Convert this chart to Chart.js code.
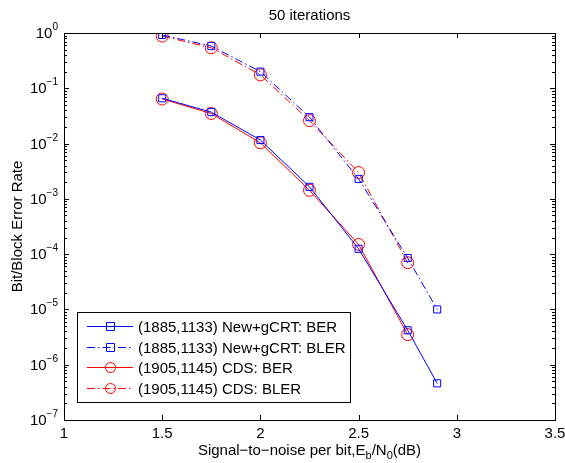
<!DOCTYPE html>
<html>
<head>
<meta charset="utf-8">
<script src="https://cdn.jsdelivr.net/npm/chart.js@4/dist/chart.umd.min.js"></script>
<style>
  html, body { margin: 0; padding: 0; background: #fff; }
  #wrap { width: 565px; height: 463px; }
</style>
</head>
<body>
<div id="wrap"><canvas id="chart" width="565" height="463"></canvas></div>
<script>
// x values (Eb/N0 in dB)
const snrNew = [1.5, 1.75, 2.0, 2.25, 2.5, 2.75, 2.9];
const snrCds = [1.5, 1.75, 2.0, 2.25, 2.5, 2.75];

// series
const berNew  = [0.066, 0.037, 0.0116, 0.00165, 1.25e-4, 4.2e-6, 4.6e-7];
const blerNew = [0.92, 0.58, 0.20, 0.030, 0.0023, 8.5e-5, 1.0e-5];
const berCds  = [0.064, 0.035, 0.0103, 0.00143, 1.5e-4, 3.5e-6];
const blerCds = [0.88, 0.54, 0.175, 0.026, 0.0030, 7.0e-5];

const seriesLabels = [
  '(1885,1133) New+gCRT: BER',
  '(1885,1133) New+gCRT: BLER',
  '(1905,1145) CDS: BER',
  '(1905,1145) CDS: BLER'
];

// tick values
const xTicks = [1, 1.5, 2, 2.5, 3, 3.5];
const yExponents = [0, -1, -2, -3, -4, -5, -6, -7];

const FONT = 'Liberation Sans, Arial, Helvetica, sans-serif';
const DASHDOT = [8, 3, 1.5, 3];

function pts(xs, ys) {
  return xs.map((x, i) => ({ x: x, y: ys[i] }));
}

function makeSet(label, xs, ys, color, dash, shape) {
  return {
    label: label,
    data: pts(xs, ys),
    borderColor: color,
    backgroundColor: 'rgba(0,0,0,0)',
    borderWidth: 1,
    borderDash: dash,
    pointStyle: shape,
    pointRadius: shape === 'rect' ? 5 : 6,
    pointBorderColor: color,
    pointBackgroundColor: 'rgba(0,0,0,0)',
    pointBorderWidth: 1,
    tension: 0,
    fill: false
  };
}

// drawing of axes box, ticks, labels, title and legend (matlab look)
const decorPlugin = {
  id: 'decor',
  afterDraw(chart) {
    const ctx = chart.ctx;
    const a = chart.chartArea;
    const xs = chart.scales.x;
    const ys = chart.scales.y;
    ctx.save();

    // axes box
    ctx.strokeStyle = '#000';
    ctx.lineWidth = 1;
    ctx.setLineDash([]);
    ctx.strokeRect(a.left + 0.5, a.top + 0.5, a.right - a.left, a.bottom - a.top);

    // x ticks
    ctx.beginPath();
    xTicks.forEach(v => {
      const px = Math.round(xs.getPixelForValue(v)) + 0.5;
      ctx.moveTo(px, a.bottom); ctx.lineTo(px, a.bottom - 5);
      ctx.moveTo(px, a.top); ctx.lineTo(px, a.top + 5);
    });
    // y major + minor ticks
    yExponents.forEach(e => {
      const py = Math.round(ys.getPixelForValue(Math.pow(10, e))) + 0.5;
      ctx.moveTo(a.left, py); ctx.lineTo(a.left + 5, py);
      ctx.moveTo(a.right, py); ctx.lineTo(a.right - 5, py);
      if (e > -7) {
        for (let m = 2; m <= 9; m++) {
          const my = Math.round(ys.getPixelForValue(m * Math.pow(10, e - 1))) + 0.5;
          ctx.moveTo(a.left, my); ctx.lineTo(a.left + 3, my);
          ctx.moveTo(a.right, my); ctx.lineTo(a.right - 3, my);
        }
      }
    });
    ctx.stroke();

    ctx.fillStyle = '#000';
    // x tick labels
    ctx.font = '15px ' + FONT;
    ctx.textAlign = 'center';
    ctx.textBaseline = 'alphabetic';
    xTicks.forEach(v => {
      ctx.fillText(String(v), xs.getPixelForValue(v), a.bottom + 18);
    });

    // y tick labels 10^e
    yExponents.forEach(e => {
      const py = ys.getPixelForValue(Math.pow(10, e));
      const expText = e === 0 ? '0' : '\u2212' + (-e);
      ctx.font = '10px ' + FONT;
      const ew = ctx.measureText(expText).width;
      ctx.textAlign = 'left';
      const expX = 58 - ew;
      ctx.fillText(expText, expX, py - 3);
      ctx.font = '15px ' + FONT;
      ctx.textAlign = 'right';
      ctx.fillText('10', expX, py + 5);
    });

    // title
    ctx.font = '15px ' + FONT;
    ctx.textAlign = 'center';
    ctx.fillText('50 iterations', (a.left + a.right) / 2, 20);

    // y axis title
    ctx.save();
    ctx.translate(22, (a.top + a.bottom) / 2);
    ctx.rotate(-Math.PI / 2);
    ctx.textAlign = 'center';
    ctx.fillText('Bit/Block Error Rate', 0, 0);
    ctx.restore();

    // x axis title with subscripts
    const parts = [
      ['Signal\u2212to\u2212noise per bit,E', 0],
      ['b', 1],
      ['/N', 0],
      ['0', 1],
      ['(dB)', 0]
    ];
    let total = 0;
    parts.forEach(p => {
      ctx.font = (p[1] ? '11px ' : '15px ') + FONT;
      total += ctx.measureText(p[0]).width;
    });
    let cx = (a.left + a.right) / 2 - total / 2;
    ctx.textAlign = 'left';
    parts.forEach(p => {
      ctx.font = (p[1] ? '11px ' : '15px ') + FONT;
      ctx.fillText(p[0], cx, 455 + (p[1] ? 4 : 0));
      cx += ctx.measureText(p[0]).width;
    });

    // legend
    const lx = 77, ly = 312, lw = 273, lh = 90;
    ctx.fillStyle = '#fff';
    ctx.fillRect(lx, ly, lw, lh);
    ctx.strokeStyle = '#000';
    ctx.lineWidth = 1;
    ctx.strokeRect(lx + 0.5, ly + 0.5, lw, lh);
    chart.data.datasets.forEach((ds, i) => {
      const ry = Math.round(ly + 14 + i * 20.7) + 0.5;
      ctx.strokeStyle = ds.borderColor;
      ctx.setLineDash(ds.borderDash || []);
      ctx.beginPath();
      ctx.moveTo(87, ry); ctx.lineTo(133, ry);
      ctx.stroke();
      ctx.setLineDash([]);
      ctx.beginPath();
      if (ds.pointStyle === 'rect') {
        ctx.rect(106.5, ry - 4, 8, 8);
      } else {
        ctx.arc(110.5, ry, 5, 0, Math.PI * 2);
      }
      ctx.stroke();
      ctx.fillStyle = '#000';
      ctx.font = '15px ' + FONT;
      ctx.textAlign = 'left';
      ctx.fillText(ds.label, 138, ry + 5);
    });

    ctx.restore();
  }
};

new Chart(document.getElementById('chart'), {
  type: 'line',
  data: {
    datasets: [
      makeSet(seriesLabels[0], snrNew, berNew, '#0000ff', [], 'rect'),
      makeSet(seriesLabels[1], snrNew, blerNew, '#0000ff', DASHDOT, 'rect'),
      makeSet(seriesLabels[2], snrCds, berCds, '#ff0000', [], 'circle'),
      makeSet(seriesLabels[3], snrCds, blerCds, '#ff0000', DASHDOT, 'circle')
    ]
  },
  plugins: [decorPlugin],
  options: {
    responsive: false,
    animation: false,
    layout: { padding: { left: 64, top: 33, right: 10, bottom: 43 } },
    plugins: {
      legend: { display: false },
      tooltip: { enabled: false }
    },
    scales: {
      x: { type: 'linear', min: 1, max: 3.5, display: false },
      y: { type: 'logarithmic', min: 1e-7, max: 1, display: false }
    }
  }
});
</script>
</body>
</html>
